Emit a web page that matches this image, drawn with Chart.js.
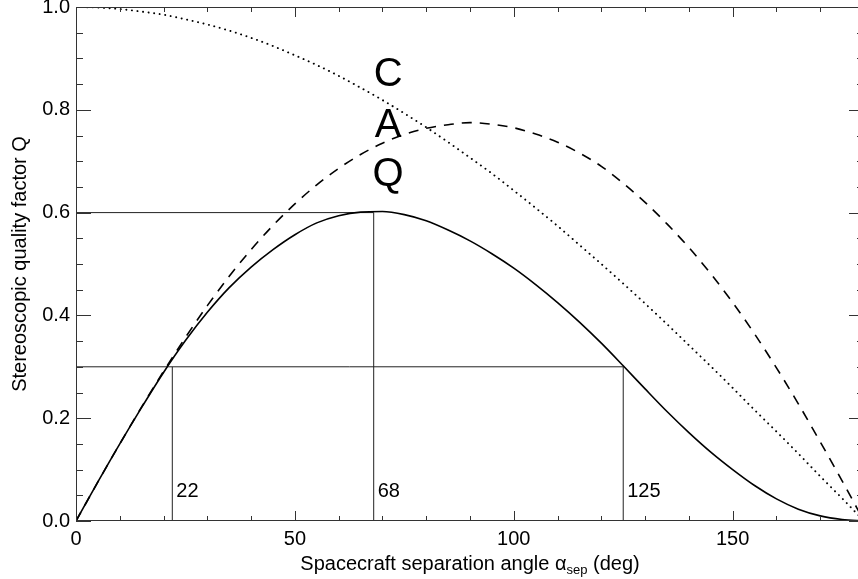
<!DOCTYPE html>
<html>
<head>
<meta charset="utf-8">
<script src="https://cdn.jsdelivr.net/npm/chart.js@4.4.1/dist/chart.umd.min.js"></script>
<style>
html, body { margin:0; padding:0; background:#fff; }
#wrap { width:858px; height:579px; overflow:hidden; }
</style>
</head>
<body>
<div id="wrap"><canvas id="quality" width="866" height="579"></canvas></div>
<script>
// separation angle (deg) and the three curves
const angles = [0,5,10,15,20,25,30,35,40,45,50,55,60,65,70,75,80,85,90,
                95,100,105,110,115,120,125,130,135,140,145,150,155,160,165,170,175,180];
const curveC = [1.000,0.999,0.996,0.991,0.985,0.976,0.966,0.954,0.940,0.924,0.906,0.887,0.866,0.843,0.819,0.793,0.766,0.737,0.707,
                0.676,0.643,0.609,0.574,0.537,0.500,0.462,0.423,0.383,0.342,0.301,0.259,0.216,0.174,0.131,0.087,0.044,0.000];
const curveA = [0.000,0.076,0.150,0.222,0.291,0.357,0.419,0.476,0.528,0.575,0.617,0.654,0.686,0.713,0.735,0.752,0.764,0.771,0.775,
                0.772,0.765,0.753,0.737,0.716,0.690,0.657,0.620,0.578,0.532,0.481,0.425,0.364,0.298,0.228,0.154,0.078,0.000];
const curveQ = [0.000,0.076,0.150,0.221,0.289,0.351,0.406,0.454,0.494,0.528,0.557,0.580,0.594,0.601,0.602,0.596,0.584,0.566,0.545,
                0.520,0.492,0.460,0.425,0.387,0.346,0.302,0.257,0.213,0.172,0.134,0.100,0.069,0.043,0.023,0.010,0.003,0.000];

// marked angles and the Q level they mark
const markAngles = [22, 68, 125];
const markLevels = [0.3, 0.6, 0.3];

const xTicks = [0, 50, 100, 150];
const yTicks = [0, 0.2, 0.4, 0.6, 0.8, 1.0];

// curve names written in the plot (angle, baseline value)
const curveNames = ['C', 'A', 'Q'];
const nameAngle = 71.3;
const nameLevels = [0.847, 0.747, 0.651];

function pts(xs, ys) { return xs.map((a, i) => ({x: a, y: ys[i]})); }

const curveStyle = {
    borderColor: '#000', borderWidth: 1.6, pointRadius: 0, fill: false,
    cubicInterpolationMode: 'monotone'
};
const refStyle = { borderColor: '#222', borderWidth: 1, pointRadius: 0, fill: false, tension: 0 };

// horizontal reference lines: from 0 to the largest angle on that level
let refLines = [];
[...new Set(markLevels)].forEach(lv => {
    const far = Math.max(...markAngles.filter((a, i) => markLevels[i] === lv));
    refLines.push({...refStyle, data: [{x: 0, y: lv}, {x: far, y: lv}]});
});
markAngles.forEach((a, i) => {
    refLines.push({...refStyle, data: [{x: a, y: 0}, {x: a, y: markLevels[i]}]});
});

Chart.defaults.font.family = "'Liberation Sans', Arial, sans-serif";
Chart.defaults.font.size = 20;
Chart.defaults.color = '#000';

const frame = {
    id: 'frame',
    afterDraw(chart) {
        const {ctx, chartArea: {left, right, top, bottom}, scales: {x, y}} = chart;
        ctx.save();
        ctx.strokeStyle = '#333';
        ctx.lineWidth = 1;
        ctx.strokeRect(left + 0.5, top + 0.5, right - left - 1, bottom - top - 1);

        ctx.beginPath();
        for (let v = 0; v <= 180; v += 10) {
            const px = Math.round(x.getPixelForValue(v)) + 0.5;
            const len = v % 50 === 0 ? 10 : 5;
            ctx.moveTo(px, bottom); ctx.lineTo(px, bottom - len);
            ctx.moveTo(px, top); ctx.lineTo(px, top + len);
        }
        for (let k = 0; k <= 20; k++) {
            const py = Math.round(y.getPixelForValue(k * 0.05)) + 0.5;
            const len = k % 4 === 0 ? 15 : 7;
            ctx.moveTo(left, py); ctx.lineTo(left + len, py);
            ctx.moveTo(right, py); ctx.lineTo(right - len, py);
        }
        ctx.stroke();

        ctx.fillStyle = '#000';
        // marked angles
        ctx.font = "20px 'Liberation Sans', Arial, sans-serif";
        ctx.textAlign = 'left';
        ctx.textBaseline = 'alphabetic';
        markAngles.forEach(a => {
            ctx.fillText(String(a), x.getPixelForValue(a) + 4, y.getPixelForValue(0.047));
        });

        // curve names
        ctx.font = "40px 'Liberation Sans', Arial, sans-serif";
        ctx.textAlign = 'center';
        curveNames.forEach((n, i) => {
            ctx.fillText(n, x.getPixelForValue(nameAngle), y.getPixelForValue(nameLevels[i]));
        });

        // x title with subscript
        const big = "20px 'Liberation Sans', Arial, sans-serif";
        const small = "13px 'Liberation Sans', Arial, sans-serif";
        const parts = [['Spacecraft separation angle ', big, 0], ['\u03b1', big, 0], ['sep', small, 4], [' (deg)', big, 0]];
        let w = 0;
        parts.forEach(p => { ctx.font = p[1]; w += ctx.measureText(p[0]).width; });
        let cx = (left + right) / 2 - w / 2;
        ctx.textAlign = 'left';
        parts.forEach(p => {
            ctx.font = p[1];
            ctx.fillText(p[0], cx, 570 + p[2]);
            cx += ctx.measureText(p[0]).width;
        });

        // y title
        ctx.font = big;
        ctx.textAlign = 'center';
        ctx.translate(26, (top + bottom) / 2);
        ctx.rotate(-Math.PI / 2);
        ctx.fillText('Stereoscopic quality factor Q', 0, 0);
        ctx.restore();
    }
};

new Chart(document.getElementById('quality'), {
    type: 'line',
    data: {
        datasets: [
            {...curveStyle, data: pts(angles, curveC), borderDash: [0.1, 5.5], borderCapStyle: 'round', borderWidth: 1.9},
            {...curveStyle, data: pts(angles, curveA), borderDash: [10, 8]},
            {...curveStyle, data: pts(angles, curveQ)},
            ...refLines
        ]
    },
    options: {
        responsive: false,
        animation: false,
        devicePixelRatio: 1,
        layout: { padding: { top: 7, right: 2, left: 0, bottom: 0 } },
        plugins: { legend: { display: false }, tooltip: { enabled: false } },
        scales: {
            x: {
                type: 'linear', min: 0, max: 180,
                grid: { display: false, drawTicks: false },
                border: { display: false },
                ticks: { padding: 6, maxRotation: 0 },
                afterBuildTicks: s => { s.ticks = xTicks.map(v => ({value: v})); },
                afterFit: s => { s.height = 58; s.paddingLeft = 0; s.paddingRight = 0; }
            },
            y: {
                type: 'linear', min: 0, max: 1.0,
                grid: { display: false, drawTicks: false },
                border: { display: false },
                ticks: { padding: 6, callback: v => v.toFixed(1) },
                afterBuildTicks: s => { s.ticks = yTicks.map(v => ({value: v})); },
                afterFit: s => { s.width = 76; s.paddingTop = 0; s.paddingBottom = 0; }
            }
        }
    },
    plugins: [frame]
});
</script>
</body>
</html>
